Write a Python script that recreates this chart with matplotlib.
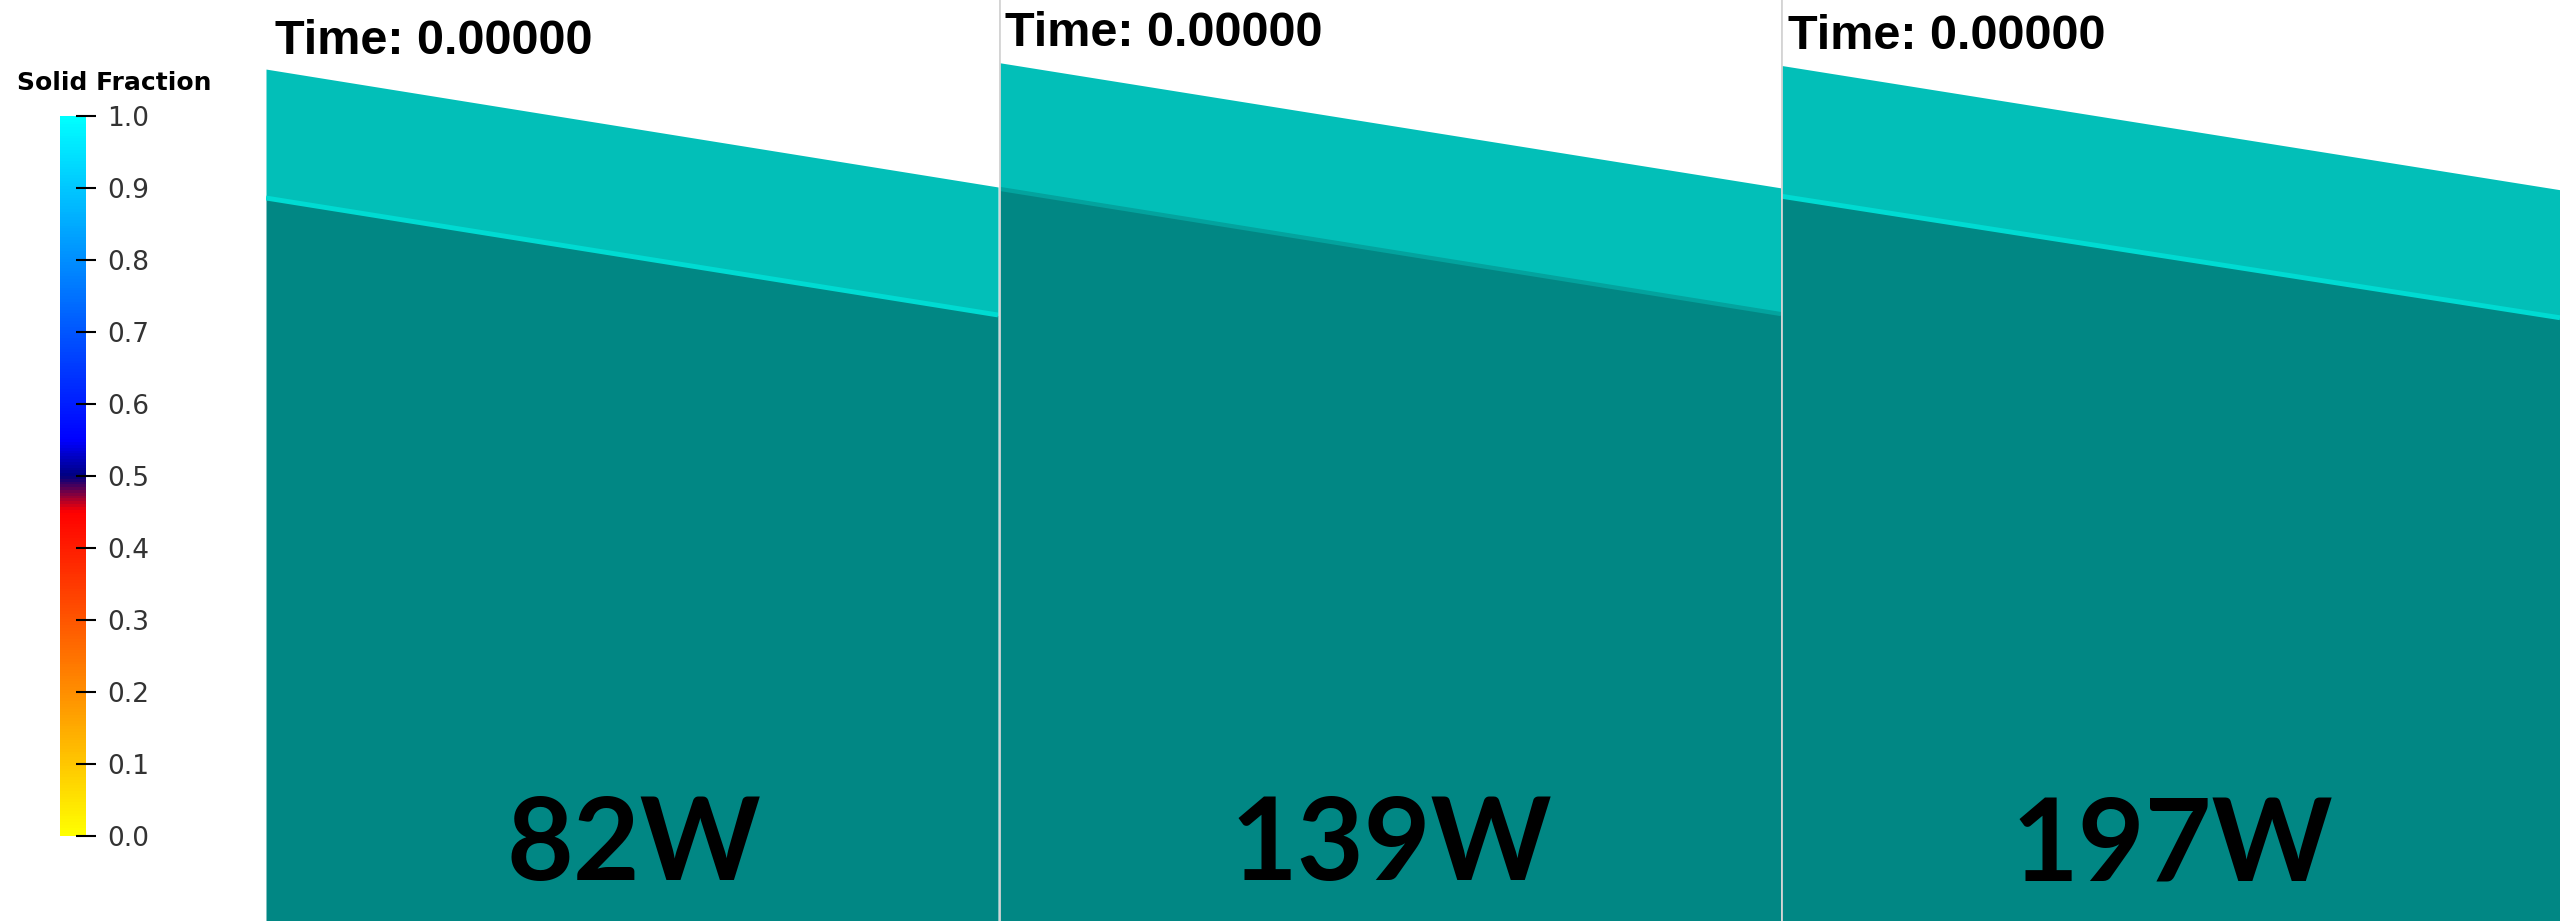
import numpy as np
import matplotlib
matplotlib.use("Agg")
import matplotlib.pyplot as plt
from matplotlib.colors import LinearSegmentedColormap
from matplotlib.cm import ScalarMappable
from matplotlib.colors import Normalize

# Data (heights as fraction of the view, read at the left and right edge of each panel)
powers = ["82W", "139W", "197W"]
time_labels = ["Time: 0.00000", "Time: 0.00000", "Time: 0.00000"]
edge_x = [0.0, 1.0]
powder_top = [[0.925, 0.797], [0.932, 0.796], [0.929, 0.794]]
melt_interface = [[0.785, 0.658], [0.795, 0.659], [0.787, 0.655]]
has_bright_line = [True, False, True]

cbar_ticks = [0.0, 0.1, 0.2, 0.3, 0.4, 0.5, 0.6, 0.7, 0.8, 0.9, 1.0]
cbar_stops = [0.0, 0.45, 0.5, 0.55, 1.0]
cbar_colors = ["#ffff00", "#ff0000", "#000080", "#0000ff", "#00ffff"]

# panel layout in figure pixels (x0, x1)
W, H = 2560, 921
panel_px = [(266, 998), (999, 1781), (1781, 2560)]
time_pos = [(0.012, 0.979), (0.008, 0.988), (0.009, 0.985)]

light_teal = "#02bfb8"
dark_teal = "#018784"

fig = plt.figure(figsize=(W / 100, H / 100), dpi=100)
fig.patch.set_facecolor("white")

for i, (x0, x1) in enumerate(panel_px):
    ax = fig.add_axes([x0 / W, 0, (x1 - x0) / W, 1])
    ax.set_xlim(0, 1)
    ax.set_ylim(0, 1)
    ax.axis("off")
    ax.fill_between(edge_x, 0, melt_interface[i], color=dark_teal, lw=0)
    ax.fill_between(edge_x, melt_interface[i], powder_top[i], color=light_teal, lw=0)
    if has_bright_line[i]:
        ax.plot(edge_x, melt_interface[i], color="#00dbd2", lw=3.5, solid_capstyle="butt")
    else:
        ax.plot(edge_x, melt_interface[i], color="#03a39e", lw=3, solid_capstyle="butt")
    if i > 0:
        ax.axvline(0.0, color="#d4d4d4", lw=2)
    ax.text(time_pos[i][0], time_pos[i][1], time_labels[i], transform=ax.transAxes,
            ha="left", va="top", fontsize=35, fontweight="bold",
            family=["Liberation Sans Narrow", "Liberation Sans"], color="black")
    ax.text(0.502, 0.0445, powers[i], transform=ax.transAxes, ha="center", va="baseline",
            fontsize=83, fontweight="bold", family=["Lato", "DejaVu Sans"], color="black")

# colour bar
cmap = LinearSegmentedColormap.from_list("cold_hot_r", list(zip(cbar_stops, cbar_colors)))
cax = fig.add_axes([60 / W, 1 - 836 / H, 26 / W, (836 - 116) / H])
cb = fig.colorbar(ScalarMappable(norm=Normalize(0, 1), cmap=cmap), cax=cax)
cb.outline.set_visible(False)
cb.set_ticks(cbar_ticks)
cb.set_ticklabels([f"{t:.1f}" for t in cbar_ticks])
cax.tick_params(axis="y", direction="inout", length=14, width=1.5, pad=8,
                labelsize=19, colors="black")
for lbl in cax.get_yticklabels():
    lbl.set_color("#333333")
fig.text(17 / W, 1 - 83 / H, "Solid Fraction", ha="left", va="center",
         fontsize=18, fontweight="bold", color="black")

fig.savefig("out.png", dpi=100, facecolor="white")
